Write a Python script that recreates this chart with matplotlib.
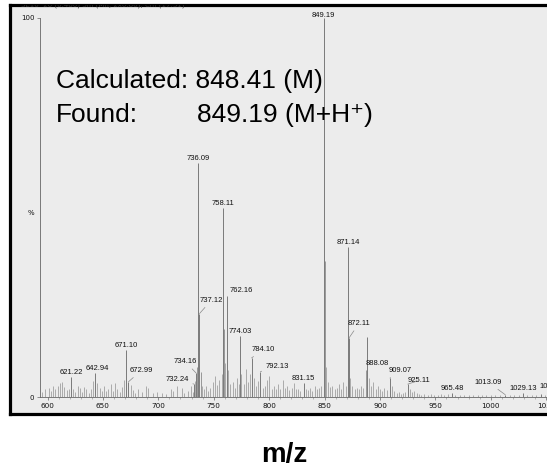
import matplotlib.pyplot as plt

# labelled peaks: m/z and relative intensity (%)
peak_mz = [621.22, 642.94, 671.10, 672.99, 732.24, 734.16, 736.09, 737.12,
           758.11, 762.16, 774.03, 784.10, 792.13, 831.15, 849.19, 871.14,
           872.11, 888.08, 909.07, 925.11, 965.48, 1013.09, 1029.13, 1045.12]
peak_int = [5.3, 6.3, 12.4, 4.0, 3.4, 6.3, 61.7, 22.0,
            49.9, 26.6, 16.1, 10.3, 6.7, 3.8, 100.0, 39.6,
            15.6, 15.8, 5.0, 3.4, 1.1, 0.6, 1.0, 0.8]

# label offsets from the peak top, pixels (0, 1 = centred above)
label_dx = [0, 2, 0, 13, -17, -11, 0, 12,
            0, 14, 0, 12, 17, 0, 0, 0,
            10, 11, 10, 11, 0, -17, 0, 12]
label_dy = [1, 1, 1, 8, 1, 8, 1, 10,
            1, 2, 1, 5, 2, 1, -1, 1,
            11, -30, 4, 0, 1, 9, 1, 4]
leader = [False, False, False, True, True, True, False, True,
          False, False, False, True, True, False, False, False,
          True, False, True, True, False, True, False, False]

# unlabelled isotope peaks
iso_mz = [735.10, 738.10, 759.12, 850.20, 887.10]
iso_int = [8.0, 6.5, 18.0, 36.0, 7.0]

# small background peaks
noise_mz = [595.2, 598.1, 601.3, 603.0, 605.2, 607.1, 609.0, 611.2, 613.1, 615.0,
            617.2, 619.1, 623.1, 625.0, 627.2, 629.1, 631.0, 633.2, 635.1, 637.0,
            639.2, 641.0, 644.9, 647.1, 649.0, 651.2, 653.1, 655.0, 657.1, 659.0,
            661.2, 663.1, 665.0, 667.1, 669.0, 675.0, 677.1, 679.0, 681.2, 685.1,
            689.0, 691.1, 695.0, 699.2, 703.1, 707.0, 711.2, 713.1, 717.0, 721.1,
            723.0, 727.2, 729.1, 731.0, 733.2, 739.1, 741.0, 743.2, 745.1, 747.0,
            749.1, 751.2, 753.1, 755.0, 757.1, 760.1, 763.1, 765.0, 767.1, 769.2,
            771.1, 773.0, 775.0, 777.1, 779.0, 781.2, 783.1, 786.1, 788.0, 790.1,
            794.1, 796.0, 798.1, 800.0, 802.2, 804.1, 806.0, 808.1, 810.0, 812.2,
            814.1, 816.0, 818.1, 820.2, 822.1, 824.0, 826.1, 828.0, 833.1, 835.0,
            837.2, 839.1, 841.0, 843.1, 845.2, 847.1, 851.2, 853.1, 855.0, 857.1,
            859.0, 861.2, 863.1, 865.0, 867.1, 869.2, 873.1, 875.0, 877.1, 879.0,
            881.2, 883.1, 885.0, 890.1, 892.0, 894.1, 896.0, 898.2, 900.1, 902.0,
            904.1, 906.0, 911.1, 913.0, 915.1, 917.0, 919.2, 921.1, 923.0, 927.1,
            929.0, 931.1, 933.0, 935.2, 937.1, 940.0, 943.1, 946.0, 949.1, 952.0,
            955.1, 958.0, 961.1, 968.0, 972.1, 976.0, 980.1, 984.0, 988.1, 992.0,
            996.1, 1000.0, 1004.1, 1008.0, 1017.1, 1021.0, 1025.1, 1033.0, 1037.1, 1041.0,
            1049.1, 1053.0, 1057.1]
noise_int = [1.2, 2.0, 2.4, 1.5, 2.8, 2.2, 3.0, 3.6, 4.0, 2.6,
             1.8, 2.2, 2.0, 1.4, 3.0, 2.5, 1.2, 2.6, 2.0, 1.0,
             2.2, 4.2, 3.8, 2.4, 1.6, 2.8, 1.5, 2.2, 3.4, 1.5,
             3.8, 2.0, 1.2, 2.6, 4.5, 3.2, 1.8, 1.0, 2.0, 1.2,
             3.0, 2.4, 1.0, 1.4, 1.0, 0.8, 2.2, 1.6, 3.0, 2.4,
             1.0, 1.6, 2.8, 1.2, 4.2, 2.8, 2.0, 3.0, 1.6, 2.4,
             4.0, 5.5, 3.2, 4.4, 6.0, 9.0, 7.0, 3.5, 4.0, 2.5,
             5.0, 3.5, 6.0, 3.5, 7.5, 4.0, 6.0, 5.0, 3.0, 4.2,
             2.5, 3.0, 4.5, 5.5, 2.0, 3.0, 2.0, 3.5, 2.0, 4.5,
             2.5, 3.0, 1.8, 2.5, 3.6, 2.0, 2.2, 1.5, 2.0, 1.8,
             2.5, 1.5, 3.0, 2.0, 2.5, 3.0, 8.0, 4.0, 2.6, 3.0,
             2.0, 2.5, 3.5, 2.2, 4.0, 3.0, 5.0, 3.0, 2.0, 2.5,
             2.2, 3.0, 2.5, 5.0, 3.0, 4.0, 2.0, 3.0, 2.0, 1.5,
             2.5, 1.8, 3.0, 1.5, 1.0, 1.2, 0.8, 1.0, 1.4, 2.0,
             1.2, 1.5, 1.0, 0.8, 0.6, 0.7, 0.5, 0.8, 0.5, 0.6,
             0.7, 0.5, 0.8, 0.5, 0.6, 0.5, 0.6, 0.4, 0.5, 0.6,
             0.4, 0.5, 0.4, 0.5, 0.4, 0.5, 0.4, 0.5, 0.4, 0.4,
             0.5, 0.4, 0.3]

W, H = 547, 469
fig = plt.figure(figsize=(W / 100, H / 100), dpi=100)
fig.patch.set_facecolor('white')

def px(x, y):
    return x / W, 1 - y / H

# scanned page frame
frame = fig.add_axes([10 / W, 55 / H, 560 / W, 409 / H])
frame.set_facecolor('#ececec')
frame.set_xticks([])
frame.set_yticks([])
for s in frame.spines.values():
    s.set_linewidth(2.3)
    s.set_color('black')
frame.text(0.02, 1.0, 'SE10  26 (0.480) Sm (Mn, 2x0.80); Cm (17:31)', transform=frame.transAxes,
           fontsize=5, color='#333333', va='center', ha='left', clip_on=True)

# spectrum axes
ax = fig.add_axes([40 / W, 72 / H, 520 / W, 379 / H])
ax.set_facecolor('none')
ax.set_xlim(593.2, 1062.5)
ax.set_ylim(0, 100)
ax.spines['top'].set_visible(False)
ax.spines['right'].set_visible(False)
ax.spines['left'].set_color('#666666')
ax.spines['left'].set_linewidth(0.6)
ax.spines['bottom'].set_color('#666666')
ax.spines['bottom'].set_linewidth(0.6)

ax.vlines(noise_mz, 0, noise_int, color='#a0a0a0', lw=0.6)
ax.vlines(iso_mz, 0, iso_int, color='#8a8a8a', lw=0.6)
ax.vlines(peak_mz, 0, peak_int, color='#7a7a7a', lw=0.7)

for mz, h, dx, dy, lead in zip(peak_mz, peak_int, label_dx, label_dy, leader):
    ax.annotate(f'{mz:.2f}', xy=(mz, h), xytext=(dx, dy), textcoords='offset pixels',
                ha='center', va='bottom', fontsize=5.5, color='#111111',
                family='Liberation Sans', annotation_clip=False,
                arrowprops=dict(arrowstyle='-', color='#888888', lw=0.5,
                                shrinkA=1, shrinkB=0) if lead else None)

ax.set_xticks(range(600, 1051, 50))
ax.set_xticks(range(600, 1061, 10), minor=True)
ax.tick_params(axis='x', which='major', labelsize=5.2, length=2.5, width=0.5, pad=2,
               color='#666666', labelcolor='#111111')
ax.tick_params(axis='x', which='minor', length=1.3, width=0.4, color='#888888')
ax.set_yticks([0, 100])
ax.tick_params(axis='y', labelsize=5, length=2, width=0.5, pad=2,
               color='#666666', labelcolor='#111111')
ax.text(-0.018, 0.485, '%', transform=ax.transAxes, fontsize=5, color='#111111',
        ha='center', va='center')

# annotation text
fig.text(*px(56, 88), 'Calculated: 848.41 (M)', fontsize=19, family='Liberation Sans',
         va='baseline', ha='left', color='black')
fig.text(*px(56, 122), 'Found:', fontsize=19, family='Liberation Sans',
         va='baseline', ha='left', color='black')
fig.text(*px(197, 122), '849.19 (M+H\u207a)', fontsize=19,
         family=['Liberation Sans', 'DejaVu Sans'], va='baseline', ha='left', color='black')

fig.text(*px(284, 455), 'm/z', fontsize=20, fontweight='bold', family='Liberation Sans',
         ha='center', va='center')

fig.savefig('out.png', dpi=100)
